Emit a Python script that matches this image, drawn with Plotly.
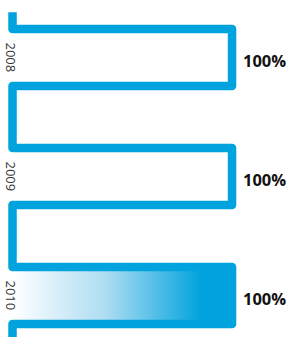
import plotly.graph_objects as go

years = ["2008", "2009", "2010"]
values = [100, 100, 100]
labels = ["100%", "100%", "100%"]
highlight = [False, False, True]

BLUE = "#00a3de"
H = 0.24  # half-height of each bump (in category units)

# serpentine path built from the data
xs, ys = [0], [-0.38]
for i, v in enumerate(values):
    xs += [0, v, v, 0]
    ys += [i - H, i - H, i + H, i + H]
xs += [0]
ys += [len(values) - 1 + 0.9]

fig = go.Figure()

for i, (v, hl) in enumerate(zip(values, highlight)):
    if hl:
        fig.add_trace(go.Scatter(
            x=[0, v, v, 0, 0], y=[i - H, i - H, i + H, i + H, i - H],
            mode="none", fill="toself",
            fillgradient=dict(type="horizontal", start=0, stop=v * 0.86,
                              colorscale=[[0, "#ffffff"], [0.5, "#acdcf2"], [1, BLUE]]),
            hoverinfo="skip", showlegend=False))

fig.add_trace(go.Scatter(x=xs, y=ys, mode="lines",
                         line=dict(color=BLUE, width=8.5),
                         hoverinfo="skip", showlegend=False))

for i, (yr, v, lab) in enumerate(zip(years, values, labels)):
    fig.add_annotation(x=0, y=i, text=yr, textangle=90, showarrow=False,
                       xanchor="center", yanchor="middle", xshift=-1.5,
                       font=dict(family="Open Sans", size=13, color="#333333"))
    fig.add_annotation(x=v, y=i, text="<b>" + lab + "</b>", showarrow=False,
                       xanchor="left", yanchor="middle", xshift=9, yshift=-3,
                       font=dict(family="Open Sans", size=16.5, color="#111111"))

fig.update_layout(
    width=290, height=337, margin=dict(l=0, r=0, t=0, b=0),
    paper_bgcolor="white", plot_bgcolor="white",
    xaxis=dict(range=[-5.7, 126.4], visible=False, fixedrange=True),
    yaxis=dict(range=[2.349, -0.483], visible=False, fixedrange=True),
)

fig.write_html("out.html", config={"displayModeBar": False},
               post_script="document.body.style.margin='0';document.body.style.overflow='hidden';document.querySelectorAll('.scatterlayer .js-line').forEach(function(p){p.style.strokeLinejoin='round';});")
